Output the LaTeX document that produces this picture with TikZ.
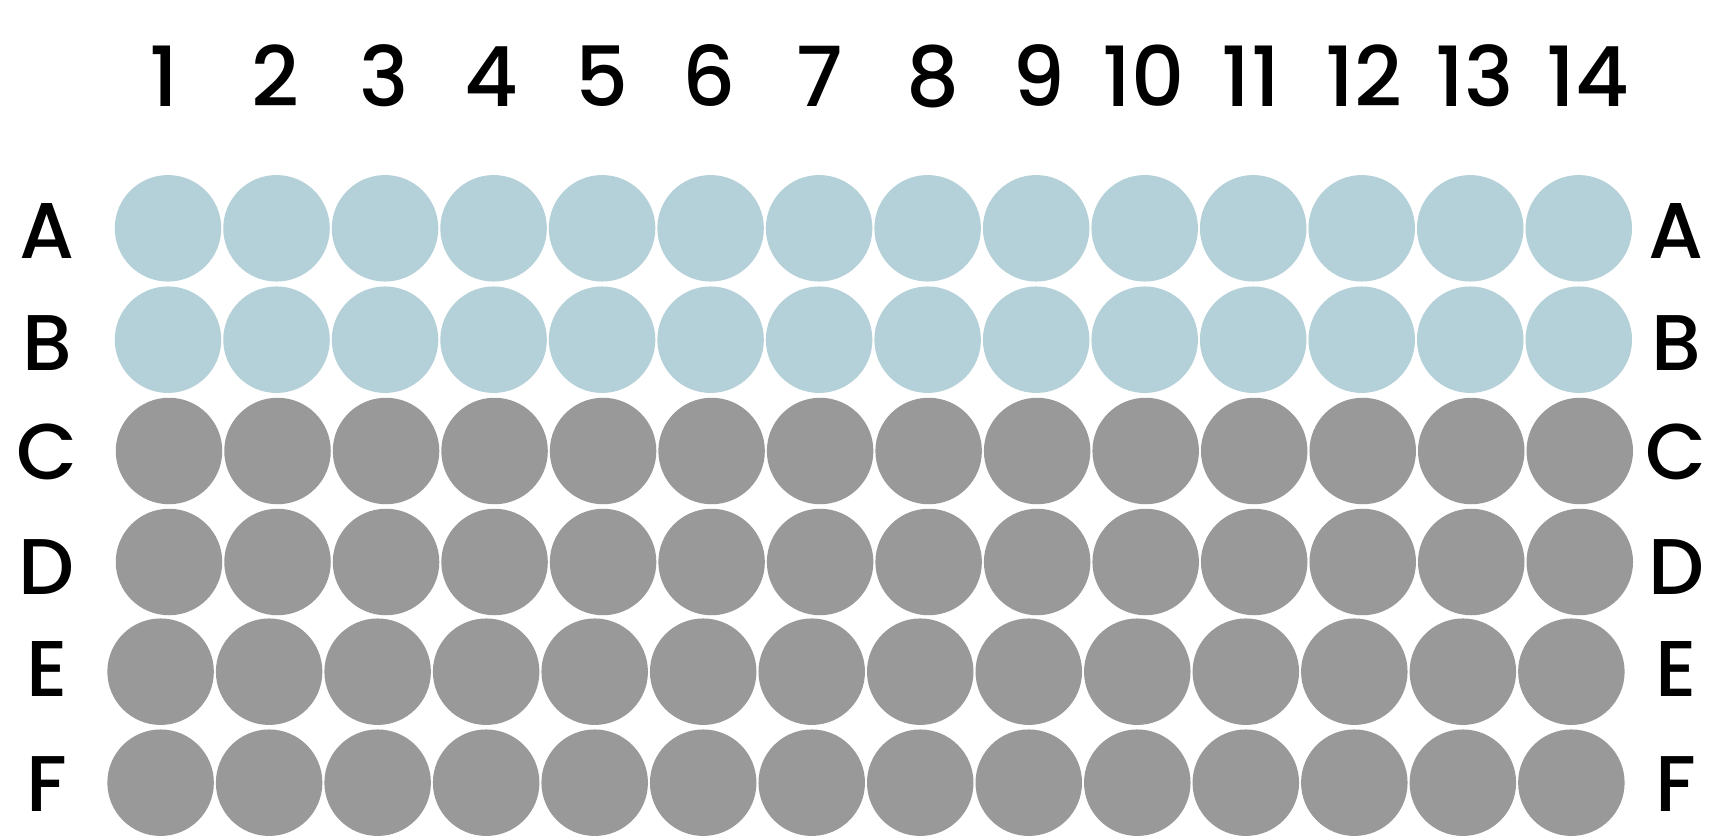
\documentclass[tikz,border=0pt]{standalone}
\usepackage{fontspec}
\setmainfont{Poppins}[UprightFont=*-Medium]
\definecolor{wellblue}{HTML}{B4D0D8}
\definecolor{wellgray}{HTML}{999999}
\begin{document}
\begin{tikzpicture}[x=1pt,y=-1pt,
  well/.style={circle,inner sep=0pt,minimum size=106.5pt,draw=none},
  collab/.style={font=\fontsize{83}{83}\selectfont,inner sep=0pt,anchor=base},
  rowlab/.style={font=\fontsize{79}{79}\selectfont,inner sep=0pt}]
\fill[white] (0,0) rectangle (1733,840);
\useasboundingbox (0,0) rectangle (1733,840);
\foreach \r/\y/\dx/\col in {A/228.3/0/wellblue, B/339.7/0/wellblue, C/451/1/wellgray, D/562/1/wellgray, E/671.7/-7.4/wellgray, F/782.7/-7.4/wellgray} {
  \foreach \c in {1,...,14} {
    \node[well,fill=\col] (\r\c) at ({168+\dx+(\c-1)*108.52},\y) {};
  }
}
\foreach \c/\x in {1/164,2/275,3/384.6,4/491.5,5/602,6/709,7/820,8/933,9/1039,10/1144,11/1251,12/1363.5,13/1475,14/1588} {
  \node[collab] (n\c) at (\x,106.7) {\c};
}
\foreach \r/\y in {A/231,B/343,C/451.6,D/566.7,E/669,F/784} {
  \node[rowlab] (l\r) at (47,\y) {\r};
  \node[rowlab] (r\r) at (1676,\y) {\r};
}
\end{tikzpicture}
\end{document}
